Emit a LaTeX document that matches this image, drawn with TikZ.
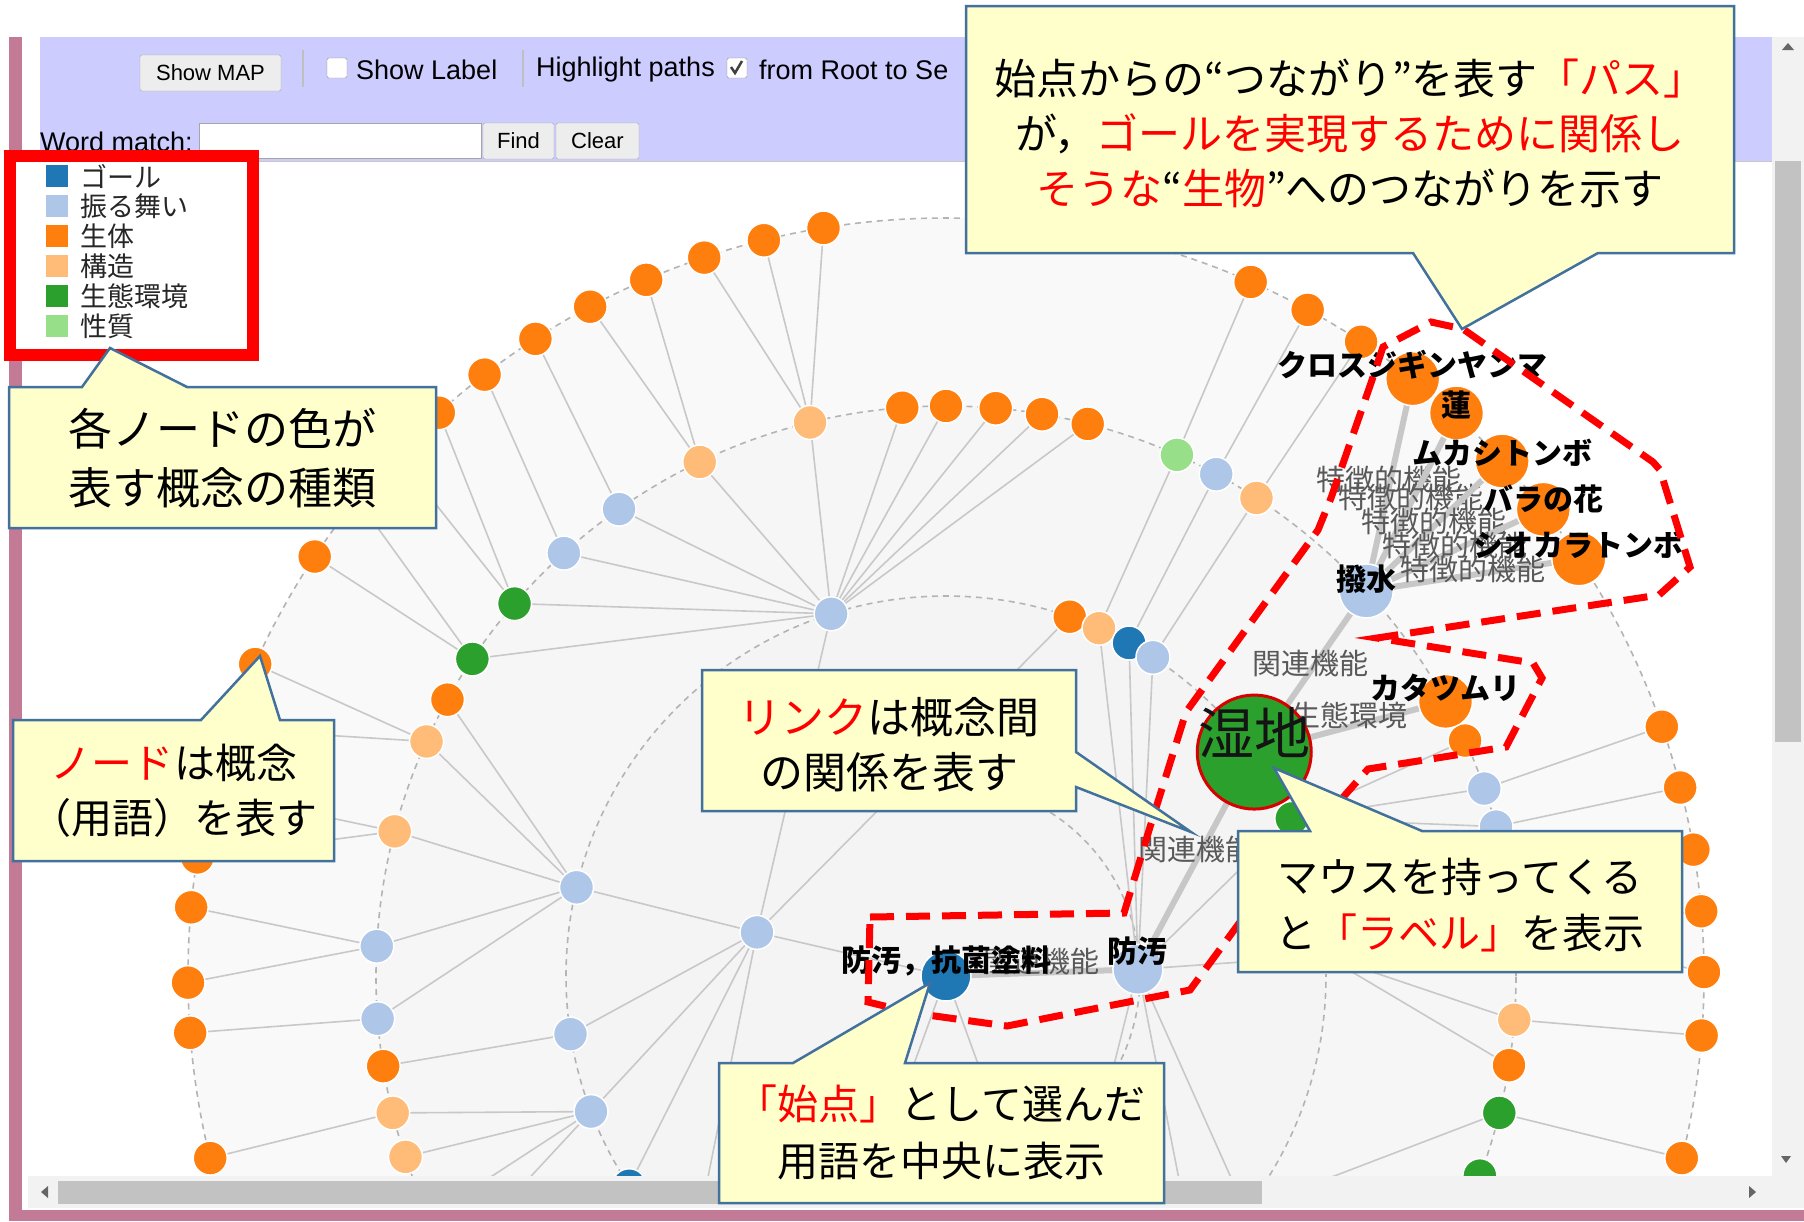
\documentclass[tikz,border=0pt]{standalone}
\usepackage{fontspec}
\setmainfont{Liberation Sans}
\newfontfamily\jp{Noto Sans CJK JP}
\usepackage{tikz}
\usetikzlibrary{calc}
\definecolor{goal}{RGB}{31,119,180}
\definecolor{behav}{RGB}{174,199,232}
\definecolor{organism}{RGB}{255,127,14}
\definecolor{struct}{RGB}{255,187,120}
\definecolor{habitat}{RGB}{44,160,44}
\definecolor{prop}{RGB}{152,223,138}
\definecolor{notefill}{RGB}{255,255,204}
\definecolor{noteline}{RGB}{65,113,156}
\definecolor{toolbar}{RGB}{204,204,255}
\definecolor{frame}{RGB}{194,122,150}
\definecolor{linkgray}{RGB}{200,200,200}
\definecolor{ringgray}{RGB}{180,180,180}

\tikzset{
  gnode/.style={circle, draw=white, line width=1.5pt, inner sep=0pt, minimum size=34pt},
  edgeln/.style={draw=linkgray, line width=1.6pt},
  pathln/.style={draw=black!22, line width=6pt},
  ring/.style={draw=ringgray, line width=1.6pt, dash pattern=on 6pt off 5pt},
  elabel/.style={font=\jp\fontsize{29}{29}\selectfont, text=black!65, inner sep=0pt},
  nlabel/.style={font=\jp\bfseries\fontsize{30}{30}\selectfont, inner sep=0pt},
  callout/.style={fill=notefill, draw=noteline, line width=2.5pt},
  ctext/.style={align=center, inner sep=0pt},
  btn/.style={draw=black!35, fill=black!7, rounded corners=2pt, inner sep=0pt,
    minimum height=36pt, font=\fontsize{22}{22}\selectfont},
  tbtext/.style={inner sep=0pt, anchor=west, font=\fontsize{27}{27}\selectfont},
  chk/.style={draw=black!45, fill=white, rounded corners=2pt, minimum size=20pt, inner sep=0pt},
  legtext/.style={inner sep=0pt, anchor=west, text=black!85, font=\jp\fontsize{27}{27}\selectfont},
  redpath/.style={draw=red, line width=7pt, dash pattern=on 24pt off 12pt}
}

\def\treelist{%
a1/167/194/behav/root, rb1/250/194/behav/root, rb2/290/194/behav/root,%
h/107.6/380/behav/a1, og/71/380/organism/a1, l1/166.5/380/behav/a1, l2/188.8/380/behav/a1,%
l3/200.9/380/behav/a1, l4/213.5/380/goal/a1, l5/228/380/behav/a1,%
lo2/66.25/380/struct/bo, db2/61.2/380/goal/bo, lb2/57/380/behav/bo, g2/24.5/380/habitat/bo,%
hd/3/380/behav/bo, b1/-38/380/behav/bo, b2/-49/380/behav/bo, b3/-75/380/behav/bo,%
t1/75.6/570/organism/h, t2/80.3/570/organism/h, t3/85/570/organism/h, t4/90/570/organism/h,%
t5/94.4/570/organism/h, t6/103.8/570/struct/h, t7/115.6/570/struct/h, t8/125/570/behav/h,%
t9/132.1/570/behav/h, t10/139.2/570/habitat/h, t11/146.2/570/habitat/h,%
u1/151/570/organism/l1, u2/155.7/570/struct/l1, u3/165.3/570/struct/l1, u4/177/570/behav/l1,%
u5/184.3/570/behav/l1, u6/189.1/570/organism/l2, u7/193.9/570/struct/l3, u8/198.5/570/struct/l3,%
u9/205/570/behav/l3, u10/210/570/organism/l3, u11/217/570/organism/l4,%
v1/66.1/570/prop/lo2, v2/61.7/570/behav/db2, v3/57/570/struct/lb2, v4/24.4/570/organism/g2,%
v5/19.2/570/behav/g2, v6/15.2/570/behav/g2, v7/10/570/behav/hd, v8/5/570/behav/hd,%
v9/-4.4/570/struct/hd, v10/-9/570/organism/hd, v11/-13.9/570/habitat/b1, v12/-20.5/570/habitat/b1,%
w1/99.3/758/organism/t6, w2/103.9/758/organism/t6, w3/108.6/758/organism/t6,%
w4/113.3/758/organism/t7, w5/118/758/organism/t7, w6/122.8/758/organism/t8,%
w7/127.5/758/organism/t9, w8/132/758/organism/t10, w9/136.5/758/organism/t10,%
w10/141/758/organism/t11, w11/146.4/758/organism/t11, w12/155.7/758/organism/u2,%
w13/161/758/organism/u2, w14/166/758/organism/u3, w15/171/758/organism/u3,%
w16/174.8/758/organism/u4, w17/180.5/758/organism/u4, w18/184.3/758/organism/u5,%
w19/193.9/758/organism/u7, x1/66.3/758/organism/v1, x2/61.5/758/organism/v2,%
x3/56.8/758/organism/v3, x4/19.2/758/organism/v5, x5/14.4/758/organism/v6,%
x6/9.6/758/organism/v7, x7/4.9/758/organism/v8, x8/0.3/758/organism/v8,%
x9/-4.5/758/organism/v9, x10/-13.9/758/organism/v11}

\begin{document}
\begin{tikzpicture}[x=1pt, y=-1pt]
\useasboundingbox (0,0) rectangle (1804,1221);
\fill[white] (0,0) rectangle (1804,1221);

% browser window
\fill[frame] (9,37) rectangle (22,1221);
\fill[frame] (9,1210) rectangle (1804,1221);
\fill[toolbar] (40,37) rectangle (1772,161);
\draw[black!22, line width=1pt] (40,161) -- (1772,161);

\begin{scope}
\clip (40,162) rectangle (1772,1176);
\begin{scope}[shift={(946,976)}, y=1pt]
  \fill[black!2.5] (0,0) circle[radius=758];
  \fill[black!3.5] (0,0) circle[radius=570];
  \fill[black!4.5] (0,0) circle[radius=380];
  \foreach \rad in {380,570,758}
    \draw[ring] (0,0) circle[radius=\rad];
  \draw[ring] (-110:194) arc[start angle=-110, end angle=62, radius=194];

  \coordinate (root) at (0,0);
  \coordinate (bo) at (2:192);
  \coordinate (shitchi) at (36:381);
  \coordinate (hassui) at (42.5:570);
  \coordinate (kata) at (28.8:570);
  \coordinate (kuro) at (52:758);
  \coordinate (hasu) at (47.8:760);
  \coordinate (muka) at (42.8:758);
  \coordinate (bara) at (38:758);
  \coordinate (shio) at (33.4:758);
  \foreach \nm/\ang/\rad/\col/\up in \treelist
    \coordinate (\nm) at (\ang:\rad);

  \foreach \nm/\ang/\rad/\col/\up in \treelist
    \draw[edgeln] (\up) -- (\nm);

  \draw[pathln] (root) -- (bo) node[elabel, midway, yshift=11pt] (e0) {関連機能};
  \draw[pathln] (bo) -- (shitchi) node[elabel, midway, yshift=11pt] (e1) {関連機能};
  \draw[pathln] (shitchi) -- (hassui) node[elabel, midway, yshift=8pt] (e2) {関連機能};
  \draw[pathln] (shitchi) -- (kata) node[elabel, midway, yshift=11pt] (e3) {生態環境};
  \foreach \t [count=\i] in {kuro,hasu,muka,bara,shio}
    \draw[pathln] (hassui) -- (\t) node[elabel, midway, yshift=5pt] (f\i) {特徴的機能};

  \foreach \nm/\ang/\rad/\col/\up in \treelist
    \node[gnode, fill=\col] (\nm-dot) at (\nm) {};
  \node[gnode, fill=goal, minimum size=50pt] (root-dot) at (root) {};
  \node[gnode, fill=behav, minimum size=50pt] (bo-dot) at (bo) {};
  \node[circle, fill=habitat, draw=red!85!black, line width=3pt, inner sep=0pt,
    minimum size=114pt] (shitchi-dot) at (shitchi) {};
  \node[gnode, fill=behav, minimum size=54pt] (hassui-dot) at (hassui) {};
  \foreach \t in {kata,kuro,hasu,muka,bara,shio}
    \node[gnode, fill=organism, minimum size=54pt] (\t-dot) at (\t) {};

  \node[nlabel, yshift=15pt] (root-lab) at (root) {防汚，抗菌塗料};
  \node[nlabel, yshift=18pt] (bo-lab) at (bo) {防汚};
  \node[font=\jp\fontsize{56}{56}\selectfont, inner sep=0pt, text=black!92, yshift=19pt]
    (shitchi-lab) at (shitchi) {湿地};
  \node[nlabel, yshift=12pt] (hassui-lab) at (hassui) {撥水};
  \node[nlabel, yshift=14pt] (kata-lab) at (kata) {カタツムリ};
  \node[nlabel, yshift=14pt] (kuro-lab) at (kuro) {クロスジギンヤンマ};
  \node[nlabel, yshift=8pt] (hasu-lab) at (hasu) {蓮};
  \node[nlabel, yshift=8pt] (muka-lab) at (muka) {ムカシトンボ};
  \node[nlabel, yshift=10pt] (bara-lab) at (bara) {バラの花};
  \node[nlabel, yshift=14pt] (shio-lab) at (shio) {シオカラトンボ};
\end{scope}
\end{scope}

% path outline
\draw[redpath] (870,917) -- (1124,913) -- (1150,827) -- (1186,712) -- (1318,530)
  -- (1331,498) -- (1372,380) -- (1383,347) -- (1431,322) -- (1463,329)
  -- (1653,462) -- (1660,470) -- (1690,567) -- (1659,595) -- (1377,638)
  -- (1533,663) -- (1542,678) -- (1506,747) -- (1368,769) -- (1345,795)
  -- (1240,922) -- (1190,990) -- (1113,1005) -- (1007,1026) -- (913,1013)
  -- (868,1002) -- cycle;

% toolbar
\node[btn, minimum width=141pt] (showmap) at (210.5,73) {Show MAP};
\draw[black!25, line width=1.2pt] (303,50) -- (303,87);
\draw[black!25, line width=1.2pt] (523,50) -- (523,87);
\node[chk] (chklabel) at (337,68) {};
\node[tbtext] (showlabel) at (356,70) {Show Label};
\node[tbtext] (hlpaths) at (536,70) {Highlight paths};
\node[chk] (chkpath) at (737,68) {};
\draw[black!75, line width=2.5pt] (731,67) -- (735,73) -- (742,61);
\node[tbtext] (fromroot) at (759,70) {from Root to Se};
\node[tbtext] (wordmatch) at (40,142) {Word match:};
\node[draw=black!35, fill=white, minimum width=282pt, minimum height=35pt, inner sep=0pt,
  anchor=west] (wordbox) at (199,141) {};
\node[btn, minimum width=71pt] (findbtn) at (518.5,141) {Find};
\node[btn, minimum width=83pt] (clearbtn) at (597.5,141) {Clear};

% scroll bars
\fill[black!5] (1772,37) rectangle (1804,1208);
\fill[black!24] (1775,161) rectangle (1801,742);
\fill[black!60] (1782,50) -- (1794,50) -- (1788,43) -- cycle;
\fill[black!60] (1781,1156) -- (1791,1156) -- (1786,1163) -- cycle;
\fill[black!5] (28,1176) rectangle (1772,1208);
\fill[black!24] (58,1181) rectangle (1262,1204);
\fill[black!60] (48,1186) -- (48,1198) -- (41,1192) -- cycle;
\fill[black!60] (1749,1186) -- (1749,1198) -- (1756,1192) -- cycle;

% legend
\fill[white] (10,156) rectangle (253,355);
\foreach \col/\t [count=\i] in {goal/ゴール, behav/振る舞い, organism/生体, struct/構造,
    habitat/生態環境, prop/性質} {
  \fill[\col] (46,{135+30*\i}) rectangle (68,{157+30*\i});
  \node[legtext] (leg\i) at (80,{146+30*\i}) {\t};
}
\draw[red, line width=12pt] (10,156) rectangle (253,355);

% callouts
\draw[callout] (966,6) -- (1734,6) -- (1734,253) -- (1598,253) -- (1462,329)
  -- (1413,253) -- (966,253) -- cycle;
\node[ctext, font=\jp\fontsize{42}{55}\selectfont] (pathnote) at (1350,133)
  {始点からの“つながり”を表す{\color{red}「パス」}\\
   が，{\color{red}ゴールを実現するために関係し}\\
   {\color{red}そうな}“{\color{red}生物}”へのつながりを示す};

\draw[callout] (9,387) -- (82,387) -- (110,348) -- (187,387) -- (436,387)
  -- (436,528) -- (9,528) -- cycle;
\node[ctext, font=\jp\fontsize{44}{59}\selectfont] (legendnote) at (222,458)
  {各ノードの色が\\表す概念の種類};

\draw[callout] (13,720) -- (201,720) -- (260,656) -- (280,720) -- (334,720)
  -- (334,861) -- (13,861) -- cycle;
\node[ctext, font=\jp\fontsize{41}{55}\selectfont] (nodenote) at (174,791)
  {{\color{red}ノード}は概念\\（用語）を表す};

\draw[callout] (702,670) -- (1076,670) -- (1076,752) -- (1191,832) -- (1076,787)
  -- (1076,811) -- (702,811) -- cycle;
\node[ctext, font=\jp\fontsize{43}{55}\selectfont] (linknote) at (889,745)
  {{\color{red}リンク}は概念間\\の関係を表す};

\draw[callout] (1238,831) -- (1310,831) -- (1274,768) -- (1422,831) -- (1682,831)
  -- (1682,972) -- (1238,972) -- cycle;
\node[ctext, font=\jp\fontsize{41}{56}\selectfont] (mousenote) at (1460,905)
  {マウスを持ってくる\\と{\color{red}「ラベル」}を表示};

\draw[callout] (719,1063) -- (793,1063) -- (930,983) -- (905,1063) -- (1164,1063)
  -- (1164,1203) -- (719,1203) -- cycle;
\node[ctext, font=\jp\fontsize{41}{57}\selectfont] (startnote) at (941,1132)
  {{\color{red}「始点」}として選んだ\\用語を中央に表示};
\end{tikzpicture}
\end{document}
